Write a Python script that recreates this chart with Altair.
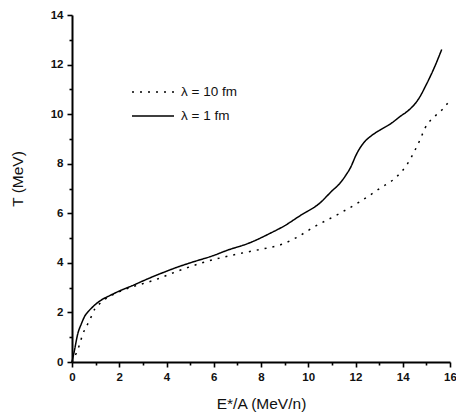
import altair as alt
import pandas as pd

series_labels = ["λ = 10 fm", "λ = 1 fm"]

E_solid = [0.0, 0.1, 0.25, 0.4, 0.54, 0.7, 0.82, 1.0, 1.24, 1.6, 1.95, 2.65, 3.0,
           3.78, 4.5, 5.0, 6.0, 6.55, 7.5, 8.38, 9.0, 9.65, 10.5, 11.0, 11.34, 11.6,
           11.77, 12.05, 12.2, 12.4, 12.7, 13.04, 13.5, 13.88, 14.3, 14.66, 15.0, 15.3, 15.65]
T_solid = [0.0, 0.45, 1.16, 1.55, 1.85, 2.05, 2.17, 2.33, 2.50, 2.68, 2.84, 3.12, 3.27,
           3.58, 3.84, 4.00, 4.30, 4.50, 4.80, 5.19, 5.50, 5.90, 6.42, 6.90, 7.21, 7.55,
           7.81, 8.40, 8.65, 8.90, 9.15, 9.36, 9.62, 9.90, 10.20, 10.60, 11.20, 11.80, 12.61]

E_dot = [0.0, 0.18, 0.3, 0.47, 0.6, 0.75, 0.96, 1.2, 1.38, 1.8, 2.37, 3.5, 4.57, 5.5,
         6.83, 8.0, 8.8, 9.5, 10.21, 11.34, 12.19, 13.04, 13.74, 14.17, 14.52, 14.73,
         14.94, 15.41, 15.72, 16.0]
T_dot = [0.0, 0.35, 0.65, 1.16, 1.42, 1.69, 2.13, 2.38, 2.52, 2.75, 2.97, 3.31, 3.70, 4.0,
         4.32, 4.55, 4.72, 5.02, 5.43, 6.00, 6.47, 7.01, 7.47, 7.95, 8.55, 8.96,
         9.43, 9.96, 10.23, 10.57]

x_ticks = list(range(0, 17))
y_ticks = list(range(0, 15))

df = pd.concat([
    pd.DataFrame({"E": E_dot, "T": T_dot, "s": series_labels[0]}),
    pd.DataFrame({"E": E_solid, "T": T_solid, "s": series_labels[1]}),
], ignore_index=True)

FONT = "Liberation Sans"
tick_size = {"condition": {"test": "datum.value % 2 === 0", "value": 5}, "value": 3}
even_label = "datum.value % 2 === 0 ? datum.label : ''"

common_axis = dict(
    labelExpr=even_label,
    tickSize=tick_size,
    labelOverlap=False,
    labelFlush=False,
    grid=False,
    domainColor="#000000",
    domainOpacity=1,
    domainWidth=2,
    tickColor="#000000",
    tickOpacity=1,
    tickWidth=1.6,
    labelFont=FONT,
    labelFontSize=11.5,
    labelFontWeight="bold",
    labelColor="#111",
    titleFont=FONT,
    titleFontSize=15.5,
    titleFontWeight="normal",
    titleColor="#111",
)

chart = alt.Chart(df).mark_line(interpolate="monotone", color="black", strokeWidth=1.5).encode(
    x=alt.X("E:Q", scale=alt.Scale(domain=[0, 16], nice=False, zero=False),
            axis=alt.Axis(values=x_ticks, title="E*/A (MeV/n)", labelPadding=4,
                          titleY=46, titleBaseline="alphabetic", **common_axis)),
    y=alt.Y("T:Q", scale=alt.Scale(domain=[0, 14], nice=False, zero=False),
            axis=alt.Axis(values=y_ticks, title="T (MeV)", labelPadding=4,
                          titleX=-50, titleY=163.5, titleAngle=270, titleAlign="center",
                          titleBaseline="alphabetic", **common_axis)),
    strokeDash=alt.StrokeDash(
        "s:N",
        scale=alt.Scale(domain=series_labels, range=[[2, 6], [1, 0]]),
        legend=alt.Legend(title=None, orient="none", legendX=59, legendY=65,
                          symbolType="stroke", symbolSize=1764, symbolStrokeWidth=1.5,
                          symbolStrokeColor="black", labelFont=FONT, labelFontSize=13.5,
                          labelColor="#111", labelOffset=6, rowPadding=0, clipHeight=24,
                          padding=0),
    ),
    detail="s:N",
).properties(
    width=378,
    height=347,
    autosize=alt.AutoSizeParams(type="none"),
    padding={"left": 72, "top": 15, "right": 6, "bottom": 53},
).configure(background="white").configure_view(stroke=None).configure_axis(
    domainColor="#000000", tickColor="#000000"
)

chart.save("out.html", embed_options={"renderer": "svg", "actions": False})
